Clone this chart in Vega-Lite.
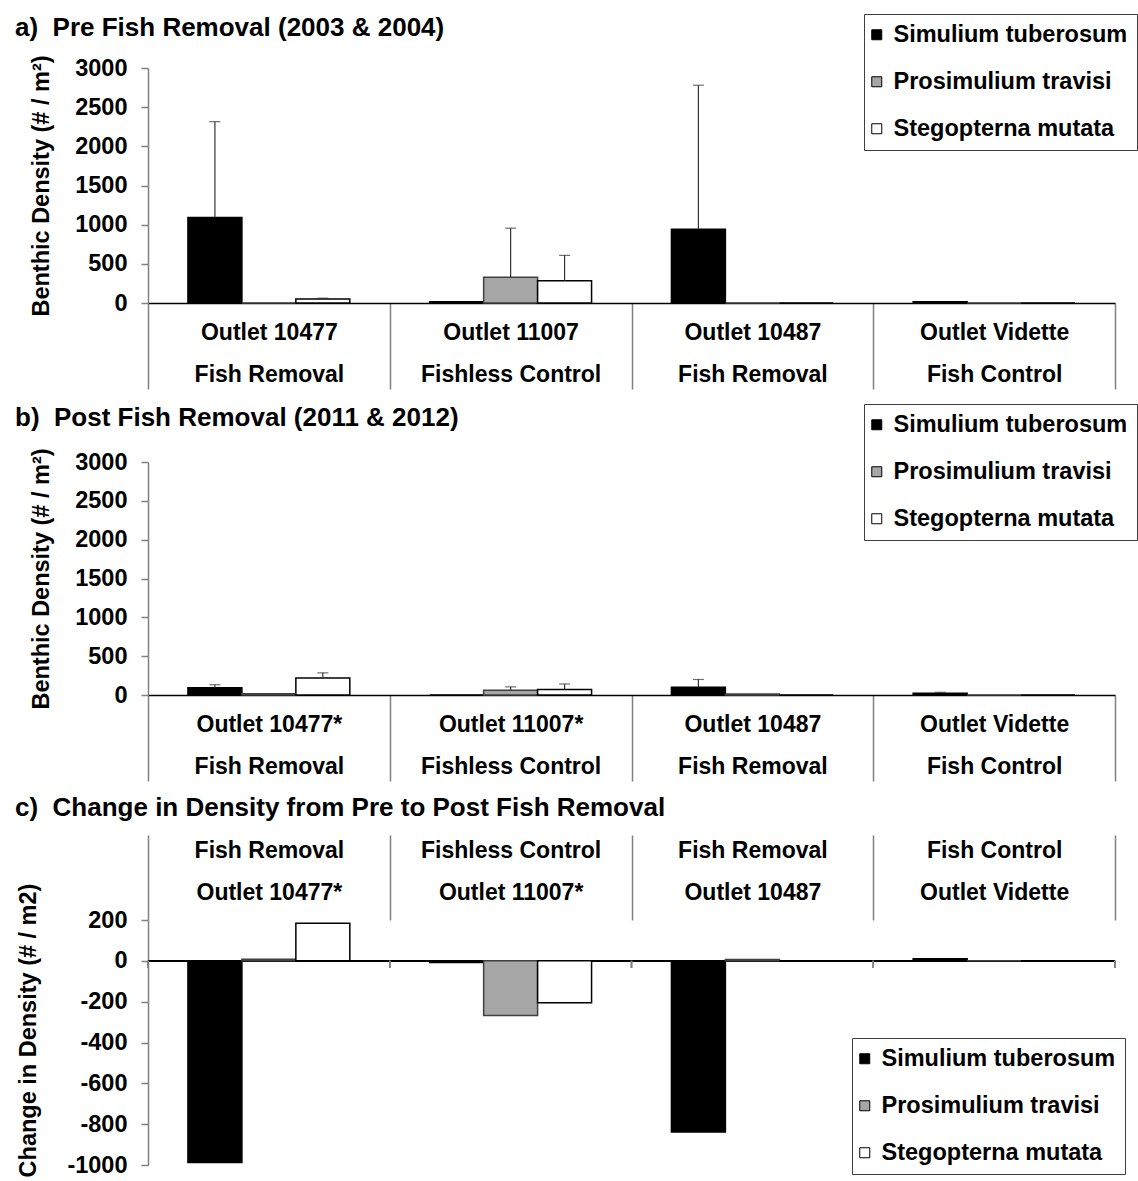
{
  "$schema": "https://vega.github.io/schema/vega-lite/v6.json",
  "padding": {"left": 15, "top": 13, "right": 0, "bottom": 0},
  "background": "white",
  "spacing": 13,
  "config": {
    "font": "Liberation Sans",
    "view": {"stroke": null},
    "axis": {
      "labelFont": "Liberation Sans", "labelFontWeight": "bold", "labelFontSize": 23, "labelColor": "#000",
      "titleFont": "Liberation Sans", "titleFontWeight": "bold", "titleFontSize": 23.5, "titleColor": "#000",
      "grid": false
    },
    "axisY": {
      "tickSize": 7, "tickColor": "#808080", "tickWidth": 1.5, "labelFontSize": 23.5,
      "domainColor": "#808080", "domainWidth": 1.5, "labelPadding": 14,
      "labelExpr": "toString(datum.value)"
    },
    "axisX": {
      "title": null, "labelExpr": "split(datum.label, '|')", "labelAngle": 0, "labelLineHeight": 42,
      "labelBaseline": "top", "tickBand": "extent", "tickColor": "#808080", "tickWidth": 1.5,
      "labelLimit": 400, "labelOverlap": false
    },
    "legend": {
      "orient": "none", "title": " ", "titleFontSize": 1, "titlePadding": 2,
      "symbolType": "square", "symbolSize": 100, "symbolOffset": -8,
      "symbolStrokeColor": "#000", "symbolStrokeWidth": 1, "labelFont": "Liberation Sans",
      "labelFontSize": 23.5, "labelFontWeight": "bold", "labelColor": "#000", "labelOffset": 5,
      "rowPadding": 22, "padding": 9, "strokeColor": "#404040", "fillColor": "#ffffff", "labelLimit": 400
    },
    "title": {"font": "Liberation Sans", "fontSize": 26, "fontWeight": "bold", "color": "#000", "anchor": "start", "frame": "group"}
  },
  "resolve": {"legend": {"color": "independent"}},
  "datasets": {
    "pre": [
      {"site": "Outlet 10477|Fish Removal", "species": "Simulium tuberosum", "value": 1090, "err": 2315},
      {"site": "Outlet 10477|Fish Removal", "species": "Prosimulium travisi", "value": 0, "err": null},
      {"site": "Outlet 10477|Fish Removal", "species": "Stegopterna mutata", "value": 50, "err": 62},
      {"site": "Outlet 11007|Fishless Control", "species": "Simulium tuberosum", "value": 15, "err": null},
      {"site": "Outlet 11007|Fishless Control", "species": "Prosimulium travisi", "value": 330, "err": 955},
      {"site": "Outlet 11007|Fishless Control", "species": "Stegopterna mutata", "value": 285, "err": 608},
      {"site": "Outlet 10487|Fish Removal", "species": "Simulium tuberosum", "value": 940, "err": 2780},
      {"site": "Outlet 10487|Fish Removal", "species": "Prosimulium travisi", "value": 0, "err": null},
      {"site": "Outlet 10487|Fish Removal", "species": "Stegopterna mutata", "value": 0, "err": null},
      {"site": "Outlet Vidette|Fish Control", "species": "Simulium tuberosum", "value": 15, "err": null},
      {"site": "Outlet Vidette|Fish Control", "species": "Prosimulium travisi", "value": 0, "err": null},
      {"site": "Outlet Vidette|Fish Control", "species": "Stegopterna mutata", "value": 0, "err": null}
    ],
    "post": [
      {"site": "Outlet 10477*|Fish Removal", "species": "Simulium tuberosum", "value": 92, "err": 132},
      {"site": "Outlet 10477*|Fish Removal", "species": "Prosimulium travisi", "value": 15, "err": null},
      {"site": "Outlet 10477*|Fish Removal", "species": "Stegopterna mutata", "value": 220, "err": 285},
      {"site": "Outlet 11007*|Fishless Control", "species": "Simulium tuberosum", "value": 0, "err": null},
      {"site": "Outlet 11007*|Fishless Control", "species": "Prosimulium travisi", "value": 60, "err": 105},
      {"site": "Outlet 11007*|Fishless Control", "species": "Stegopterna mutata", "value": 72, "err": 142},
      {"site": "Outlet 10487|Fish Removal", "species": "Simulium tuberosum", "value": 100, "err": 200},
      {"site": "Outlet 10487|Fish Removal", "species": "Prosimulium travisi", "value": 12, "err": null},
      {"site": "Outlet 10487|Fish Removal", "species": "Stegopterna mutata", "value": 0, "err": null},
      {"site": "Outlet Vidette|Fish Control", "species": "Simulium tuberosum", "value": 22, "err": 35},
      {"site": "Outlet Vidette|Fish Control", "species": "Prosimulium travisi", "value": 0, "err": null},
      {"site": "Outlet Vidette|Fish Control", "species": "Stegopterna mutata", "value": 0, "err": null}
    ],
    "change": [
      {"site": "Fish Removal|Outlet 10477*", "species": "Simulium tuberosum", "value": -988},
      {"site": "Fish Removal|Outlet 10477*", "species": "Prosimulium travisi", "value": 8},
      {"site": "Fish Removal|Outlet 10477*", "species": "Stegopterna mutata", "value": 184},
      {"site": "Fishless Control|Outlet 11007*", "species": "Simulium tuberosum", "value": -8},
      {"site": "Fishless Control|Outlet 11007*", "species": "Prosimulium travisi", "value": -268},
      {"site": "Fishless Control|Outlet 11007*", "species": "Stegopterna mutata", "value": -205},
      {"site": "Fish Removal|Outlet 10487", "species": "Simulium tuberosum", "value": -838},
      {"site": "Fish Removal|Outlet 10487", "species": "Prosimulium travisi", "value": 6},
      {"site": "Fish Removal|Outlet 10487", "species": "Stegopterna mutata", "value": 0},
      {"site": "Fish Control|Outlet Vidette", "species": "Simulium tuberosum", "value": 10},
      {"site": "Fish Control|Outlet Vidette", "species": "Prosimulium travisi", "value": 0},
      {"site": "Fish Control|Outlet Vidette", "species": "Stegopterna mutata", "value": 0}
    ]
  },
  "vconcat": [
    {
      "title": {"text": "a)\u00a0\u00a0Pre Fish Removal (2003 & 2004)", "dx": -133, "offset": -27},
      "width": 967, "height": 235,
      "data": {"name": "pre"},
      "encoding": {
        "x": {"field": "site", "type": "nominal", "sort": null, "scale": {"paddingInner": 0, "paddingOuter": 0},
              "axis": {"tickSize": 86, "labelPadding": -68, "domainColor": "#000", "domainWidth": 1.5}},
        "xOffset": {"field": "species", "type": "nominal", "sort": ["Simulium tuberosum", "Prosimulium travisi", "Stegopterna mutata"], "scale": {"paddingInner": 0, "paddingOuter": 0.74}}
      },
      "layer": [
        {
          "mark": {"type": "bar", "strokeWidth": 1.5},
          "encoding": {
            "y": {"field": "value", "type": "quantitative", "scale": {"domain": [0, 3000], "nice": false},
                  "axis": {"title": "Benthic Density (# / m²)", "values": [0, 500, 1000, 1500, 2000, 2500, 3000], "titlePadding": 21}},
            "color": {"field": "species", "type": "nominal",
                      "scale": {"domain": ["Simulium tuberosum", "Prosimulium travisi", "Stegopterna mutata"], "range": ["#000000", "#a6a6a6", "#ffffff"]},
                      "legend": {"legendX": 716, "legendY": -54}},
            "stroke": {"field": "species", "type": "nominal",
                       "scale": {"domain": ["Simulium tuberosum", "Prosimulium travisi", "Stegopterna mutata"], "range": ["#000000", "#404040", "#000000"]},
                       "legend": null}
          }
        },
        {
          "transform": [{"filter": "datum.err != null"}],
          "mark": {"type": "rule", "color": "#333333", "strokeWidth": 1.2},
          "encoding": {
            "y": {"field": "value", "type": "quantitative", "axis": {"title": "Benthic Density (# / m²)", "values": [0, 500, 1000, 1500, 2000, 2500, 3000], "titlePadding": 21}},
            "y2": {"field": "err"}
          }
        },
        {
          "transform": [{"filter": "datum.err != null"}],
          "mark": {"type": "tick", "color": "#333333", "thickness": 1.2, "size": 11},
          "encoding": {
            "y": {"field": "err", "type": "quantitative", "axis": {"title": "Benthic Density (# / m²)", "values": [0, 500, 1000, 1500, 2000, 2500, 3000], "titlePadding": 21}}
          }
        }
      ]
    },
    {
      "title": {"text": "b)\u00a0\u00a0Post Fish Removal (2011 & 2012)", "dx": -133, "offset": -27},
      "width": 967, "height": 233,
      "data": {"name": "post"},
      "encoding": {
        "x": {"field": "site", "type": "nominal", "sort": null, "scale": {"paddingInner": 0, "paddingOuter": 0},
              "axis": {"tickSize": 86, "labelPadding": -68, "domainColor": "#000", "domainWidth": 1.5}},
        "xOffset": {"field": "species", "type": "nominal", "sort": ["Simulium tuberosum", "Prosimulium travisi", "Stegopterna mutata"], "scale": {"paddingInner": 0, "paddingOuter": 0.74}}
      },
      "layer": [
        {
          "mark": {"type": "bar", "strokeWidth": 1.5},
          "encoding": {
            "y": {"field": "value", "type": "quantitative", "scale": {"domain": [0, 3000], "nice": false},
                  "axis": {"title": "Benthic Density (# / m²)", "values": [0, 500, 1000, 1500, 2000, 2500, 3000], "titlePadding": 21}},
            "color": {"field": "species", "type": "nominal",
                      "scale": {"domain": ["Simulium tuberosum", "Prosimulium travisi", "Stegopterna mutata"], "range": ["#000000", "#a6a6a6", "#ffffff"]},
                      "legend": {"legendX": 716, "legendY": -58}},
            "stroke": {"field": "species", "type": "nominal",
                       "scale": {"domain": ["Simulium tuberosum", "Prosimulium travisi", "Stegopterna mutata"], "range": ["#000000", "#404040", "#000000"]},
                       "legend": null}
          }
        },
        {
          "transform": [{"filter": "datum.err != null"}],
          "mark": {"type": "rule", "color": "#333333", "strokeWidth": 1.2},
          "encoding": {
            "y": {"field": "value", "type": "quantitative", "axis": {"title": "Benthic Density (# / m²)", "values": [0, 500, 1000, 1500, 2000, 2500, 3000], "titlePadding": 21}},
            "y2": {"field": "err"}
          }
        },
        {
          "transform": [{"filter": "datum.err != null"}],
          "mark": {"type": "tick", "color": "#333333", "thickness": 1.2, "size": 11},
          "encoding": {
            "y": {"field": "err", "type": "quantitative", "axis": {"title": "Benthic Density (# / m²)", "values": [0, 500, 1000, 1500, 2000, 2500, 3000], "titlePadding": 21}}
          }
        }
      ]
    },
    {
      "title": {"text": "c)\u00a0\u00a0Change in Density from Pre to Post Fish Removal", "dx": -133, "offset": 13},
      "width": 967, "height": 245,
      "data": {"name": "change"},
      "layer": [
        {
          "mark": {"type": "rule", "color": "#000000", "strokeWidth": 1.5},
          "encoding": {"y": {"datum": 0, "type": "quantitative"}}
        },
        {
          "mark": {"type": "rule", "color": "#808080", "strokeWidth": 1.5},
          "encoding": {
            "x": {"field": "site", "type": "nominal", "sort": null, "bandPosition": 0},
            "y": {"datum": 0, "type": "quantitative"},
            "y2": {"datum": -35}
          }
        },
        {
          "transform": [{"filter": "datum.site == 'Fish Control|Outlet Vidette'"}],
          "mark": {"type": "rule", "color": "#808080", "strokeWidth": 1.5},
          "encoding": {
            "x": {"field": "site", "type": "nominal", "sort": null, "bandPosition": 1},
            "y": {"datum": 0, "type": "quantitative"},
            "y2": {"datum": -35}
          }
        },
        {
          "mark": {"type": "bar", "strokeWidth": 1.5},
          "encoding": {
            "x": {"field": "site", "type": "nominal", "sort": null, "scale": {"paddingInner": 0, "paddingOuter": 0},
                  "axis": {"orient": "top", "domain": false, "tickSize": 85, "labelPadding": -4}},
            "xOffset": {"field": "species", "type": "nominal", "sort": ["Simulium tuberosum", "Prosimulium travisi", "Stegopterna mutata"], "scale": {"paddingInner": 0, "paddingOuter": 0.74}},
            "y": {"field": "value", "type": "quantitative", "scale": {"domain": [-1000, 200], "nice": false},
                  "axis": {"title": "Change in Density (# / m2)", "values": [-1000, -800, -600, -400, -200, 0, 200], "titlePadding": 26, "titleY": 110}},
            "color": {"field": "species", "type": "nominal",
                      "scale": {"domain": ["Simulium tuberosum", "Prosimulium travisi", "Stegopterna mutata"], "range": ["#000000", "#a6a6a6", "#ffffff"]},
                      "legend": {"legendX": 704, "legendY": 118}},
            "stroke": {"field": "species", "type": "nominal",
                       "scale": {"domain": ["Simulium tuberosum", "Prosimulium travisi", "Stegopterna mutata"], "range": ["#000000", "#595959", "#595959"]},
                       "legend": null}
          }
        }
      ]
    }
  ]
}
